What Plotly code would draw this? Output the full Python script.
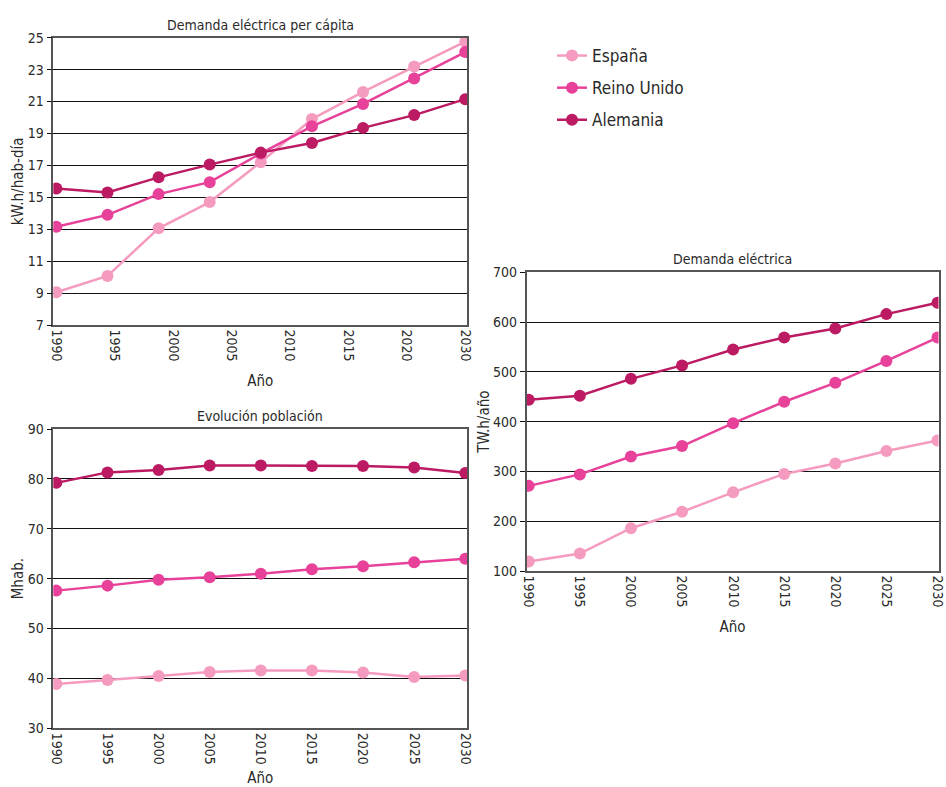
import numpy as np
import plotly.graph_objects as go

years = [1990, 1995, 2000, 2005, 2010, 2015, 2020, 2025, 2030]
series_names = ["España", "Reino Unido", "Alemania"]
colors = ["#F49BBF", "#E8419A", "#BC1A62"]

# Demanda eléctrica per cápita (kW.h/hab-día)
percap_es = [9.05, 10.07, 13.06, 14.7, 17.2, 19.9, 21.6, 23.2, 24.75]
percap_uk = [13.15, 13.9, 15.2, 15.95, 17.75, 19.45, 20.85, 22.45, 24.1]
percap_de = [15.55, 15.3, 16.25, 17.05, 17.8, 18.4, 19.35, 20.15, 21.15]
percap_ticklabels = ["1990", "1995", "2000", "2005", "2010", "2015", "2020", "2030"]

# Evolución población (Mhab.)
pop_es = [38.9, 39.7, 40.5, 41.3, 41.6, 41.6, 41.2, 40.3, 40.6]
pop_uk = [57.6, 58.6, 59.8, 60.3, 61.0, 61.9, 62.5, 63.3, 64.0]
pop_de = [79.2, 81.3, 81.8, 82.7, 82.7, 82.6, 82.6, 82.3, 81.2]

# Demanda eléctrica (TW.h/año)
dem_es = [119, 135, 186, 219, 258, 295, 316, 341, 362]
dem_uk = [271, 294, 330, 351, 397, 440, 478, 522, 569]
dem_de = [444, 452, 486, 513, 545, 569, 587, 616, 639]

W, H = 946, 787
FONT = "DejaVu Sans Condensed, Liberation Sans Narrow, Roboto, sans-serif"
TXT = "#2a2a2a"

fig = go.Figure()

def add_set(vals, xa, ya, legend):
    for name, v, c in zip(series_names, vals, colors):
        fig.add_trace(go.Scatter(
            x=years, y=v, name=name, mode="lines+markers",
            line=dict(color=c, width=2.5),
            marker=dict(color=c, size=12),
            legendgroup=name,
            xaxis=xa, yaxis=ya, showlegend=legend))

add_set([percap_es, percap_uk, percap_de], "x", "y", True)
add_set([pop_es, pop_uk, pop_de], "x2", "y2", False)
add_set([dem_es, dem_uk, dem_de], "x3", "y3", False)

def px_x(a, b):
    return [a / W, b / W]

def px_y(top, bot):
    return [1 - bot / H, 1 - top / H]

axis_common = dict(showline=True, linecolor="#555555", linewidth=1.5, mirror=True,
                   automargin=False, ticklabeloverflow="allow",
                   tickfont=dict(family=FONT, size=14, color=TXT), zeroline=False)

xcommon = dict(axis_common, tickangle=90, showgrid=False, ticks="")
ycommon = dict(axis_common, showgrid=True, gridcolor="#111111", gridwidth=1.3,
               ticks="outside", ticklen=5, tickcolor="#111111", tickwidth=1.3)

tfont = dict(size=15, family=FONT, color=TXT)

d1x = px_x(53.3, 467.3); d1y = px_y(37.7, 325)
d2x = px_x(53.3, 467.3); d2y = px_y(429, 728.3)
d3x = px_x(526.7, 938.5); d3y = px_y(272.3, 571)

fig.update_layout(
    width=W, height=H, paper_bgcolor="white", plot_bgcolor="white",
    margin=dict(l=0, r=0, t=0, b=0),
    font=dict(family=FONT, color=TXT),
    xaxis=dict(xcommon, domain=d1x, anchor="y", range=[1989.7, 2030.2],
               tickvals=list(np.linspace(1990, 2030, len(percap_ticklabels))),
               ticktext=percap_ticklabels,
               title=dict(text="Año", font=tfont)),
    yaxis=dict(ycommon, domain=d1y, anchor="x", range=[7, 25], dtick=2, tick0=7,
               title=dict(text="kW.h/hab-día", font=tfont, standoff=0)),
    xaxis2=dict(xcommon, domain=d2x, anchor="y2", range=[1989.7, 2030.2],
                tickvals=years, ticktext=[str(y) for y in years],
                title=dict(text="Año", font=tfont)),
    yaxis2=dict(ycommon, domain=d2y, anchor="x2", range=[30, 90], dtick=10,
                title=dict(text="Mhab.", font=tfont, standoff=0)),
    xaxis3=dict(xcommon, domain=d3x, anchor="y3", range=[1989.8, 2030.1],
                tickvals=years, ticktext=[str(y) for y in years],
                title=dict(text="Año", font=tfont)),
    yaxis3=dict(ycommon, domain=d3y, anchor="x3", range=[100, 700], dtick=100,
                title=dict(text="TW.h/año", font=tfont, standoff=0)),
    legend=dict(x=552 / W, y=1 - 38 / H, xanchor="left", yanchor="top",
                font=dict(family=FONT, size=17, color=TXT), bgcolor="rgba(0,0,0,0)",
                itemwidth=30, tracegroupgap=7),
)

titles = [("Demanda eléctrica per cápita", d1x, d1y),
          ("Evolución población", d2x, d2y),
          ("Demanda eléctrica", d3x, d3y)]
for t, dx, dy in titles:
    fig.add_annotation(text=t, x=(dx[0] + dx[1]) / 2, y=dy[1], xref="paper", yref="paper",
                       xanchor="center", yanchor="bottom", yshift=3, showarrow=False,
                       font=dict(family=FONT, size=14, color=TXT))

fig.write_html("out.html", config={"displayModeBar": False},
               post_script="document.body.style.margin='0';document.body.style.overflow='hidden';")
